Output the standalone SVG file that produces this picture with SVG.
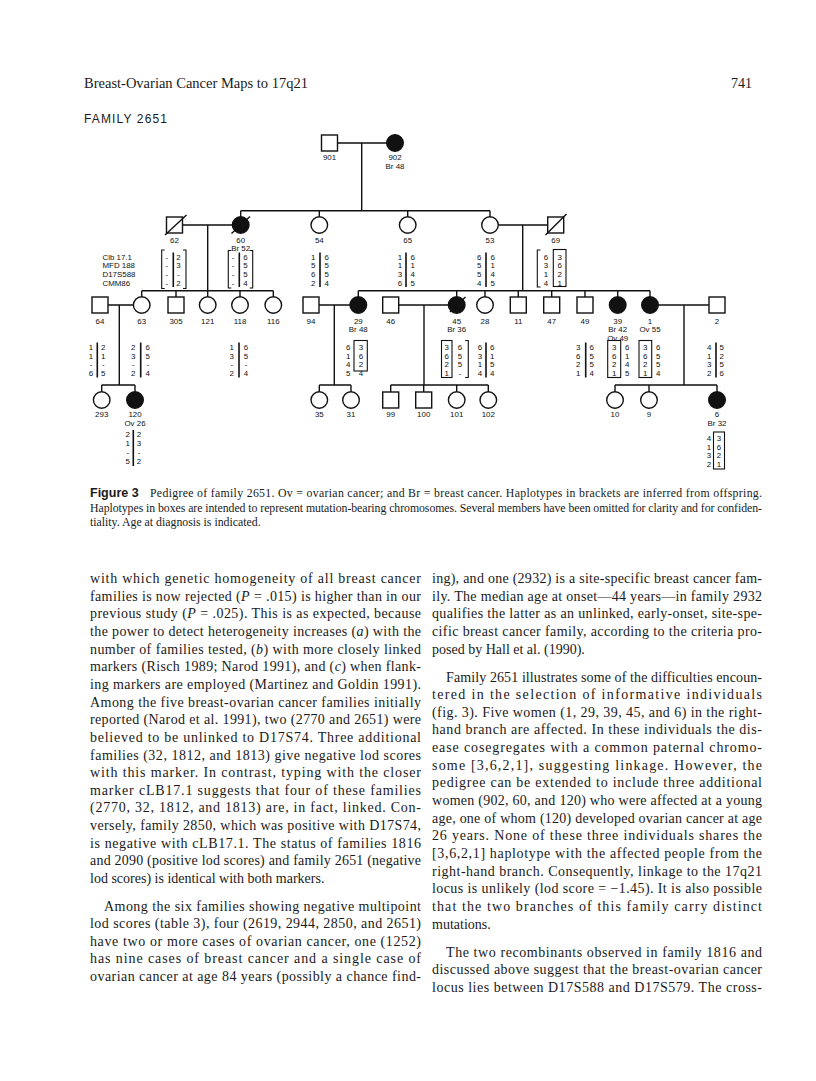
<svg xmlns="http://www.w3.org/2000/svg" width="816" height="1081" viewBox="0 0 816 1081">
<style>
.ln{stroke:#111;stroke-width:1.4;fill:none}
.m{fill:#fff;stroke:#111;stroke-width:1.4}
.a{fill:#111;stroke:#111;stroke-width:1.4}
.bx{fill:none;stroke:#111;stroke-width:1.1}
.bar{stroke:#111;stroke-width:1.6}
.lb{font-family:"Liberation Sans",Arial,sans-serif;font-size:7.9px;fill:#111;text-anchor:middle}
.mk{font-family:"Liberation Sans",Arial,sans-serif;font-size:7.9px;fill:#111}
.bt{font-family:"Liberation Serif","Times New Roman",serif;font-size:14px;fill:#1a1a1a}
.cp{font-family:"Liberation Serif","Times New Roman",serif;font-size:11.8px;fill:#1a1a1a}
.hd{font-family:"Liberation Serif","Times New Roman",serif;font-size:14px;fill:#1a1a1a}
.fam{font-family:"Liberation Sans",Arial,sans-serif;font-size:12px;fill:#1a1a1a}
.fig{font-family:"Liberation Sans",Arial,sans-serif;font-size:12.5px;font-weight:bold;fill:#1a1a1a}
</style>
<rect width="816" height="1081" fill="#fff"/>
<text class="hd" x="84" y="88" textLength="224" lengthAdjust="spacingAndGlyphs">Breast-Ovarian Cancer Maps to 17q21</text>
<text class="hd" x="752" y="88" text-anchor="end">741</text>
<text class="fam" x="84" y="123" textLength="83" lengthAdjust="spacing">FAMILY 2651</text>

<g id="connectors">
<path class="ln" d="M337.5 143H386.7M361.7 143V210.7M240.7 210.7H490M240.7 210.7V216.7M319.3 210.7V216.7M407.7 210.7V216.7M490 210.7V216.7"/>
<path class="ln" d="M182.5 225H232.4M207.7 225V290.7M141.7 290.7H273.3M141.7 290.7V296.7M176 290.7V297M207.7 290.7V296.7M240 290.7V296.7M273.3 290.7V296.7"/>
<path class="ln" d="M498.3 225H547.7M522.7 225V290.7M358.3 290.7H650M358.3 290.7V296.7M456.7 290.7V296.7M485 290.7V296.7M518.3 290.7V297M551.7 290.7V297M585 290.7V297M617.7 290.7V296.7M650 290.7V296.7"/>
<path class="ln" d="M108 305H133.4M119.3 305V385M101.7 385H135M101.7 385V391.7M135 385V391.7"/>
<path class="ln" d="M319 305H350M334.3 305V385M319.3 385H351M319.3 385V391.7M351 385V391.7"/>
<path class="ln" d="M398.7 305H448.4M424 305V385M390.7 385H488.3M390.7 385V392M423.7 385V392M456.7 385V391.7M488.3 385V391.7"/>
<path class="ln" d="M658.3 305H709M684 305V385M615 385H717M615 385V391.7M649 385V391.7M717 385V391.7"/>
</g>

<g id="markers">
<text class="mk" x="102.5" y="259.5">Clb 17.1</text>
<text class="mk" x="102.5" y="268.3">MFD 188</text>
<text class="mk" x="102.5" y="277.1">D17S588</text>
<text class="mk" x="102.5" y="285.9">CMM86</text>
</g>

<g id="n901"><rect class="m" x="321.5" y="135" width="16" height="16"/><text class="lb" x="329.5" y="160">901</text></g>
<g id="n902"><circle class="a" cx="395" cy="143" r="8.3"/><text class="lb" x="395" y="160">902</text><text class="lb" x="395" y="169">Br 48</text></g>

<g id="n62"><rect class="m" x="166.5" y="217" width="16" height="16"/><path class="ln" d="M165 235L186.5 215"/><text class="lb" x="174.5" y="243">62</text>
<path class="bx" d="M164.7 250H161.7V288.5H164.7M183 250H186V288.5H183"/><path class="bar" d="M173.3 252.5V287"/>
<text class="lb" y="259.5"><tspan x="166.8">-</tspan><tspan x="166.8" dy="8.8">-</tspan><tspan x="166.8" dy="8.8">-</tspan><tspan x="166.8" dy="8.8">-</tspan></text>
<text class="lb" y="259.5"><tspan x="178.5">2</tspan><tspan x="178.5" dy="8.8">3</tspan><tspan x="178.5" dy="8.8">-</tspan><tspan x="178.5" dy="8.8">2</tspan></text></g>

<g id="n60"><circle class="a" cx="240.7" cy="225" r="8.3"/><path class="ln" d="M231.5 233.5L250 216.5"/><text class="lb" x="240.7" y="243">60</text><text class="lb" x="240.7" y="251">Br 52</text>
<path class="bx" d="M231.3 250.5H228.3V288H231.3M249.7 250.5H252.7V288H249.7"/><path class="bar" d="M239.3 252.5V287"/>
<text class="lb" y="259.5"><tspan x="233">-</tspan><tspan x="233" dy="8.8">-</tspan><tspan x="233" dy="8.8">-</tspan><tspan x="233" dy="8.8">-</tspan></text>
<text class="lb" y="259.5"><tspan x="245.5">6</tspan><tspan x="245.5" dy="8.8">5</tspan><tspan x="245.5" dy="8.8">5</tspan><tspan x="245.5" dy="8.8">4</tspan></text></g>

<g id="n54"><circle class="m" cx="319.3" cy="225" r="8.3"/><text class="lb" x="319.3" y="243">54</text><path class="bar" d="M320 252.5V287"/>
<text class="lb" y="259.5"><tspan x="313.3">1</tspan><tspan x="313.3" dy="8.8">5</tspan><tspan x="313.3" dy="8.8">6</tspan><tspan x="313.3" dy="8.8">2</tspan></text>
<text class="lb" y="259.5"><tspan x="326.7">6</tspan><tspan x="326.7" dy="8.8">5</tspan><tspan x="326.7" dy="8.8">5</tspan><tspan x="326.7" dy="8.8">4</tspan></text></g>

<g id="n65"><circle class="m" cx="407.7" cy="225" r="8.3"/><text class="lb" x="407.7" y="243">65</text><path class="bar" d="M406 252.5V287"/>
<text class="lb" y="259.5"><tspan x="400">1</tspan><tspan x="400" dy="8.8">1</tspan><tspan x="400" dy="8.8">3</tspan><tspan x="400" dy="8.8">6</tspan></text>
<text class="lb" y="259.5"><tspan x="412.7">6</tspan><tspan x="412.7" dy="8.8">1</tspan><tspan x="412.7" dy="8.8">4</tspan><tspan x="412.7" dy="8.8">5</tspan></text></g>

<g id="n53"><circle class="m" cx="490" cy="225" r="8.3"/><text class="lb" x="490" y="243">53</text><path class="bar" d="M486 252.5V287"/>
<text class="lb" y="259.5"><tspan x="479.3">6</tspan><tspan x="479.3" dy="8.8">5</tspan><tspan x="479.3" dy="8.8">5</tspan><tspan x="479.3" dy="8.8">4</tspan></text>
<text class="lb" y="259.5"><tspan x="492.7">6</tspan><tspan x="492.7" dy="8.8">1</tspan><tspan x="492.7" dy="8.8">4</tspan><tspan x="492.7" dy="8.8">5</tspan></text></g>

<g id="n69"><rect class="m" x="547.7" y="217" width="16" height="16"/><path class="ln" d="M545.5 235L566.5 214"/><text class="lb" x="555.7" y="243">69</text>
<path class="bx" d="M540.5 250H537.3V287H540.5"/><rect class="bx" x="553.3" y="249.5" width="12.7" height="37"/>
<text class="lb" y="259.5"><tspan x="546">6</tspan><tspan x="546" dy="8.8">3</tspan><tspan x="546" dy="8.8">1</tspan><tspan x="546" dy="8.8">4</tspan></text>
<text class="lb" y="259.5"><tspan x="559.7">3</tspan><tspan x="559.7" dy="8.8">6</tspan><tspan x="559.7" dy="8.8">2</tspan><tspan x="559.7" dy="8.8">1</tspan></text></g>

<g id="n64"><rect class="m" x="92" y="297" width="16" height="16"/><text class="lb" x="100" y="323.5">64</text><path class="bar" d="M97.3 342.5V377.5"/>
<text class="lb" y="350"><tspan x="91">1</tspan><tspan x="91" dy="8.7">1</tspan><tspan x="91" dy="8.7">-</tspan><tspan x="91" dy="8.7">6</tspan></text>
<text class="lb" y="350"><tspan x="103.3">2</tspan><tspan x="103.3" dy="8.7">1</tspan><tspan x="103.3" dy="8.7">-</tspan><tspan x="103.3" dy="8.7">5</tspan></text></g>

<g id="n63"><circle class="m" cx="141.7" cy="305" r="8.3"/><text class="lb" x="141.7" y="323.5">63</text><path class="bar" d="M140.7 342.5V377.5"/>
<text class="lb" y="350"><tspan x="133.3">2</tspan><tspan x="133.3" dy="8.7">3</tspan><tspan x="133.3" dy="8.7">-</tspan><tspan x="133.3" dy="8.7">2</tspan></text>
<text class="lb" y="350"><tspan x="147.7">6</tspan><tspan x="147.7" dy="8.7">5</tspan><tspan x="147.7" dy="8.7">-</tspan><tspan x="147.7" dy="8.7">4</tspan></text></g>

<g id="n305"><rect class="m" x="168" y="297" width="16" height="16"/><text class="lb" x="176" y="323.5">305</text></g>
<g id="n121"><circle class="m" cx="207.7" cy="305" r="8.3"/><text class="lb" x="207.7" y="323.5">121</text></g>
<g id="n118"><circle class="m" cx="240" cy="305" r="8.3"/><text class="lb" x="240" y="323.5">118</text><path class="bar" d="M239 342.5V377.5"/>
<text class="lb" y="350"><tspan x="231.7">1</tspan><tspan x="231.7" dy="8.7">3</tspan><tspan x="231.7" dy="8.7">-</tspan><tspan x="231.7" dy="8.7">2</tspan></text>
<text class="lb" y="350"><tspan x="246">6</tspan><tspan x="246" dy="8.7">5</tspan><tspan x="246" dy="8.7">-</tspan><tspan x="246" dy="8.7">4</tspan></text></g>
<g id="n116"><circle class="m" cx="273.3" cy="305" r="8.3"/><text class="lb" x="273.3" y="323.5">116</text></g>

<g id="n94"><rect class="m" x="303" y="297" width="16" height="16"/><text class="lb" x="311" y="323.5">94</text></g>
<g id="n29"><circle class="a" cx="358.3" cy="305" r="8.3"/><text class="lb" x="358.3" y="323.5">29</text><text class="lb" x="358.3" y="332">Br 48</text>
<rect class="bx" x="354" y="340.5" width="13.3" height="30.5"/>
<text class="lb" y="350"><tspan x="348.3">6</tspan><tspan x="348.3" dy="8.7">1</tspan><tspan x="348.3" dy="8.7">4</tspan><tspan x="348.3" dy="8.7">5</tspan></text>
<text class="lb" y="350"><tspan x="361">3</tspan><tspan x="361" dy="8.7">6</tspan><tspan x="361" dy="8.7">2</tspan><tspan x="361" dy="8.7">4</tspan></text></g>

<g id="n46"><rect class="m" x="382.7" y="297" width="16" height="16"/><text class="lb" x="390.7" y="323.5">46</text></g>
<g id="n45"><circle class="a" cx="456.7" cy="305" r="8.3"/><path class="ln" d="M450 312L465.5 297"/><text class="lb" x="456.7" y="323.5">45</text><text class="lb" x="456.7" y="332">Br 36</text>
<rect class="bx" x="441.5" y="340.5" width="10.5" height="37"/><path class="bx" d="M465.2 340.5H468.3V377.5H465.2"/>
<text class="lb" y="350"><tspan x="446.7">3</tspan><tspan x="446.7" dy="8.7">6</tspan><tspan x="446.7" dy="8.7">2</tspan><tspan x="446.7" dy="8.7">1</tspan></text>
<text class="lb" y="350"><tspan x="460">6</tspan><tspan x="460" dy="8.7">5</tspan><tspan x="460" dy="8.7">5</tspan><tspan x="460" dy="8.7">-</tspan></text></g>

<g id="n28"><circle class="m" cx="485" cy="305" r="8.3"/><text class="lb" x="485" y="323.5">28</text><path class="bar" d="M486 342.5V377.5"/>
<text class="lb" y="350"><tspan x="480">6</tspan><tspan x="480" dy="8.7">3</tspan><tspan x="480" dy="8.7">1</tspan><tspan x="480" dy="8.7">4</tspan></text>
<text class="lb" y="350"><tspan x="492.3">6</tspan><tspan x="492.3" dy="8.7">1</tspan><tspan x="492.3" dy="8.7">5</tspan><tspan x="492.3" dy="8.7">4</tspan></text></g>
<g id="n11"><rect class="m" x="510.3" y="297" width="16" height="16"/><text class="lb" x="518.3" y="323.5">11</text></g>
<g id="n47"><rect class="m" x="543.7" y="297" width="16" height="16"/><text class="lb" x="551.7" y="323.5">47</text></g>
<g id="n49"><rect class="m" x="577" y="297" width="16" height="16"/><text class="lb" x="585" y="323.5">49</text><path class="bar" d="M585.7 342.5V377.5"/>
<text class="lb" y="350"><tspan x="578.3">3</tspan><tspan x="578.3" dy="8.7">6</tspan><tspan x="578.3" dy="8.7">2</tspan><tspan x="578.3" dy="8.7">1</tspan></text>
<text class="lb" y="350"><tspan x="591.7">6</tspan><tspan x="591.7" dy="8.7">5</tspan><tspan x="591.7" dy="8.7">5</tspan><tspan x="591.7" dy="8.7">4</tspan></text></g>

<g id="n39"><circle class="a" cx="617.7" cy="305" r="8.3"/><text class="lb" x="617.7" y="323.5">39</text><text class="lb" x="617.7" y="332">Br 42</text><text class="lb" x="617.7" y="340.5">Ov 49</text>
<rect class="bx" x="607.7" y="340.5" width="13" height="37"/>
<text class="lb" y="350"><tspan x="614.2">3</tspan><tspan x="614.2" dy="8.7">6</tspan><tspan x="614.2" dy="8.7">2</tspan><tspan x="614.2" dy="8.7">1</tspan></text>
<text class="lb" y="350"><tspan x="627.3">6</tspan><tspan x="627.3" dy="8.7">1</tspan><tspan x="627.3" dy="8.7">4</tspan><tspan x="627.3" dy="8.7">5</tspan></text></g>

<g id="n1"><circle class="a" cx="650" cy="305" r="8.3"/><text class="lb" x="650" y="323.5">1</text><text class="lb" x="650" y="332">Ov 55</text>
<rect class="bx" x="639" y="340.5" width="12.7" height="37"/>
<text class="lb" y="350"><tspan x="645.3">3</tspan><tspan x="645.3" dy="8.7">6</tspan><tspan x="645.3" dy="8.7">2</tspan><tspan x="645.3" dy="8.7">1</tspan></text>
<text class="lb" y="350"><tspan x="658.3">6</tspan><tspan x="658.3" dy="8.7">5</tspan><tspan x="658.3" dy="8.7">5</tspan><tspan x="658.3" dy="8.7">4</tspan></text></g>

<g id="n2"><rect class="m" x="709" y="297" width="16" height="16"/><text class="lb" x="717" y="323.5">2</text><path class="bar" d="M716 342.5V377.5"/>
<text class="lb" y="350"><tspan x="709.3">4</tspan><tspan x="709.3" dy="8.7">1</tspan><tspan x="709.3" dy="8.7">3</tspan><tspan x="709.3" dy="8.7">2</tspan></text>
<text class="lb" y="350"><tspan x="721.7">5</tspan><tspan x="721.7" dy="8.7">2</tspan><tspan x="721.7" dy="8.7">5</tspan><tspan x="721.7" dy="8.7">6</tspan></text></g>

<g id="n293"><circle class="m" cx="101.7" cy="400" r="8.3"/><text class="lb" x="101.7" y="417">293</text></g>
<g id="n120"><circle class="a" cx="135" cy="400" r="8.3"/><text class="lb" x="135" y="417">120</text><text class="lb" x="135" y="425.5">Ov 26</text><path class="bar" d="M133.3 430V466"/>
<text class="lb" y="437"><tspan x="127.7">2</tspan><tspan x="127.7" dy="9">1</tspan><tspan x="127.7" dy="9">-</tspan><tspan x="127.7" dy="9">5</tspan></text>
<text class="lb" y="437"><tspan x="139">2</tspan><tspan x="139" dy="9">3</tspan><tspan x="139" dy="9">-</tspan><tspan x="139" dy="9">2</tspan></text></g>

<g id="n35"><circle class="m" cx="319.3" cy="400" r="8.3"/><text class="lb" x="319.3" y="417">35</text></g>
<g id="n31"><circle class="m" cx="351" cy="400" r="8.3"/><text class="lb" x="351" y="417">31</text></g>
<g id="n99"><rect class="m" x="382.7" y="392" width="16" height="16"/><text class="lb" x="390.7" y="417">99</text></g>
<g id="n100"><rect class="m" x="415.7" y="392" width="16" height="16"/><text class="lb" x="423.7" y="417">100</text></g>
<g id="n101"><circle class="m" cx="456.7" cy="400" r="8.3"/><text class="lb" x="456.7" y="417">101</text></g>
<g id="n102"><circle class="m" cx="488.3" cy="400" r="8.3"/><text class="lb" x="488.3" y="417">102</text></g>
<g id="n10"><circle class="m" cx="615" cy="400" r="8.3"/><text class="lb" x="615" y="417">10</text></g>
<g id="n9"><circle class="m" cx="649" cy="400" r="8.3"/><text class="lb" x="649" y="417">9</text></g>
<g id="n6"><circle class="a" cx="717" cy="400" r="8.3"/><text class="lb" x="717" y="417">6</text><text class="lb" x="717" y="425.5">Br 32</text>
<rect class="bx" x="713.5" y="432" width="11" height="37"/>
<text class="lb" y="441"><tspan x="709">4</tspan><tspan x="709" dy="8.6">1</tspan><tspan x="709" dy="8.6">3</tspan><tspan x="709" dy="8.6">2</tspan></text>
<text class="lb" y="441"><tspan x="719">3</tspan><tspan x="719" dy="8.6">6</tspan><tspan x="719" dy="8.6">2</tspan><tspan x="719" dy="8.6">1</tspan></text></g>

<g id="caption">
<text class="fig" x="90" y="497">Figure 3</text>
<text class="cp" x="150" y="497" textLength="612" lengthAdjust="spacing">Pedigree of family 2651. Ov = ovarian cancer; and Br = breast cancer. Haplotypes in brackets are inferred from offspring.</text>
<text class="cp" x="90" y="511.5" textLength="672" lengthAdjust="spacing">Haplotypes in boxes are intended to represent mutation-bearing chromosomes. Several members have been omitted for clarity and for confiden-</text>
<text class="cp" x="90" y="526">tiality. Age at diagnosis is indicated.</text>
</g>

<g id="left-column">
<text class="bt" x="90" y="583" textLength="331" lengthAdjust="spacing">with which genetic homogeneity of all breast cancer</text>
<text class="bt" x="90" y="600.65" textLength="331" lengthAdjust="spacing">families is now rejected (<tspan font-style="italic">P</tspan> = .015) is higher than in our</text>
<text class="bt" x="90" y="618.3" textLength="331" lengthAdjust="spacing">previous study (<tspan font-style="italic">P</tspan> = .025). This is as expected, because</text>
<text class="bt" x="90" y="635.95" textLength="331" lengthAdjust="spacing">the power to detect heterogeneity increases (<tspan font-style="italic">a</tspan>) with the</text>
<text class="bt" x="90" y="653.6" textLength="331" lengthAdjust="spacing">number of families tested, (<tspan font-style="italic">b</tspan>) with more closely linked</text>
<text class="bt" x="90" y="671.25" textLength="331" lengthAdjust="spacing">markers (Risch 1989; Narod 1991), and (<tspan font-style="italic">c</tspan>) when flank-</text>
<text class="bt" x="90" y="688.9" textLength="331" lengthAdjust="spacing">ing markers are employed (Martinez and Goldin 1991).</text>
<text class="bt" x="90" y="706.55" textLength="331" lengthAdjust="spacing">Among the five breast-ovarian cancer families initially</text>
<text class="bt" x="90" y="724.2" textLength="331" lengthAdjust="spacing">reported (Narod et al. 1991), two (2770 and 2651) were</text>
<text class="bt" x="90" y="741.85" textLength="331" lengthAdjust="spacing">believed to be unlinked to D17S74. Three additional</text>
<text class="bt" x="90" y="759.5" textLength="331" lengthAdjust="spacing">families (32, 1812, and 1813) give negative lod scores</text>
<text class="bt" x="90" y="777.15" textLength="331" lengthAdjust="spacing">with this marker. In contrast, typing with the closer</text>
<text class="bt" x="90" y="794.8" textLength="331" lengthAdjust="spacing">marker cLB17.1 suggests that four of these families</text>
<text class="bt" x="90" y="812.45" textLength="331" lengthAdjust="spacing">(2770, 32, 1812, and 1813) are, in fact, linked. Con-</text>
<text class="bt" x="90" y="830.1" textLength="331" lengthAdjust="spacing">versely, family 2850, which was positive with D17S74,</text>
<text class="bt" x="90" y="847.75" textLength="331" lengthAdjust="spacing">is negative with cLB17.1. The status of families 1816</text>
<text class="bt" x="90" y="865.4" textLength="331" lengthAdjust="spacing">and 2090 (positive lod scores) and family 2651 (negative</text>
<text class="bt" x="90" y="883.05">lod scores) is identical with both markers.</text>
<text class="bt" x="104" y="910.5" textLength="317" lengthAdjust="spacing">Among the six families showing negative multipoint</text>
<text class="bt" x="90" y="928.15" textLength="331" lengthAdjust="spacing">lod scores (table 3), four (2619, 2944, 2850, and 2651)</text>
<text class="bt" x="90" y="945.8" textLength="331" lengthAdjust="spacing">have two or more cases of ovarian cancer, one (1252)</text>
<text class="bt" x="90" y="963.45" textLength="331" lengthAdjust="spacing">has nine cases of breast cancer and a single case of</text>
<text class="bt" x="90" y="981.1" textLength="331" lengthAdjust="spacing">ovarian cancer at age 84 years (possibly a chance find-</text>
</g>

<g id="right-column">
<text class="bt" x="432" y="583" textLength="330" lengthAdjust="spacing">ing), and one (2932) is a site-specific breast cancer fam-</text>
<text class="bt" x="432" y="600.65" textLength="330" lengthAdjust="spacing">ily. The median age at onset—44 years—in family 2932</text>
<text class="bt" x="432" y="618.3" textLength="330" lengthAdjust="spacing">qualifies the latter as an unlinked, early-onset, site-spe-</text>
<text class="bt" x="432" y="635.95" textLength="330" lengthAdjust="spacing">cific breast cancer family, according to the criteria pro-</text>
<text class="bt" x="432" y="653.6">posed by Hall et al. (1990).</text>
<text class="bt" x="446" y="681.5" textLength="316" lengthAdjust="spacing">Family 2651 illustrates some of the difficulties encoun-</text>
<text class="bt" x="432" y="699.15" textLength="330" lengthAdjust="spacing">tered in the selection of informative individuals</text>
<text class="bt" x="432" y="716.8" textLength="330" lengthAdjust="spacing">(fig. 3). Five women (1, 29, 39, 45, and 6) in the right-</text>
<text class="bt" x="432" y="734.45" textLength="330" lengthAdjust="spacing">hand branch are affected. In these individuals the dis-</text>
<text class="bt" x="432" y="752.1" textLength="330" lengthAdjust="spacing">ease cosegregates with a common paternal chromo-</text>
<text class="bt" x="432" y="769.75" textLength="330" lengthAdjust="spacing">some [3,6,2,1], suggesting linkage. However, the</text>
<text class="bt" x="432" y="787.4" textLength="330" lengthAdjust="spacing">pedigree can be extended to include three additional</text>
<text class="bt" x="432" y="805.05" textLength="330" lengthAdjust="spacing">women (902, 60, and 120) who were affected at a young</text>
<text class="bt" x="432" y="822.7" textLength="330" lengthAdjust="spacing">age, one of whom (120) developed ovarian cancer at age</text>
<text class="bt" x="432" y="840.35" textLength="330" lengthAdjust="spacing">26 years. None of these three individuals shares the</text>
<text class="bt" x="432" y="858" textLength="330" lengthAdjust="spacing">[3,6,2,1] haplotype with the affected people from the</text>
<text class="bt" x="432" y="875.65" textLength="330" lengthAdjust="spacing">right-hand branch. Consequently, linkage to the 17q21</text>
<text class="bt" x="432" y="893.3" textLength="330" lengthAdjust="spacing">locus is unlikely (lod score = −1.45). It is also possible</text>
<text class="bt" x="432" y="910.95" textLength="330" lengthAdjust="spacing">that the two branches of this family carry distinct</text>
<text class="bt" x="432" y="928.6">mutations.</text>
<text class="bt" x="446" y="956.5" textLength="316" lengthAdjust="spacing">The two recombinants observed in family 1816 and</text>
<text class="bt" x="432" y="974.15" textLength="330" lengthAdjust="spacing">discussed above suggest that the breast-ovarian cancer</text>
<text class="bt" x="432" y="991.8" textLength="330" lengthAdjust="spacing">locus lies between D17S588 and D17S579. The cross-</text>
</g>
</svg>
